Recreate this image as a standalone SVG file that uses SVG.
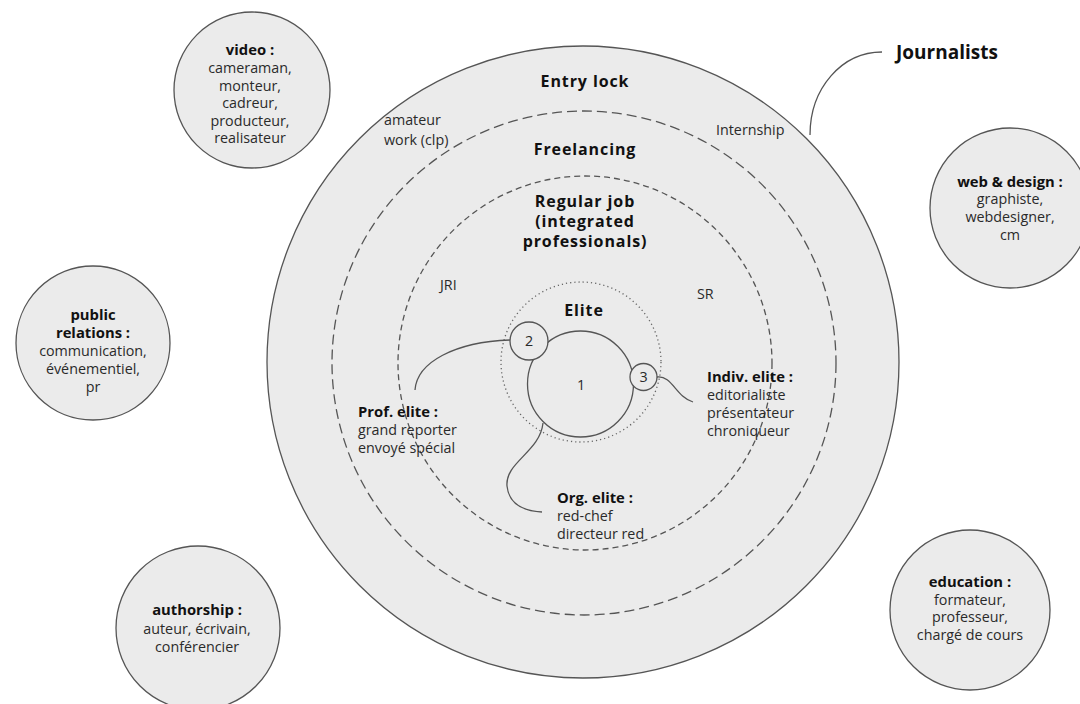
<svg xmlns="http://www.w3.org/2000/svg" width="1080" height="704" viewBox="0 0 1080 704">
<style>
.node{fill:#ebebeb;stroke:#555;stroke-width:1.3}
.ring{fill:none;stroke:#555;stroke-width:1.3}
.d1{stroke-dasharray:10 5}
.d2{stroke-dasharray:6 4}
.d3{stroke-dasharray:1.2 3;stroke:#666}
.conn{fill:none;stroke:#555;stroke-width:1.3}
text{font-family:"Open Sans","Noto Sans","Liberation Sans",sans-serif;fill:#2a2a2a;font-size:14.3px;text-anchor:middle}
.b{font-weight:bold;fill:#111;font-size:14.8px}
.h{font-weight:bold;fill:#111;font-size:16px;letter-spacing:0.9px}
.l{text-anchor:start}
</style>
<rect width="1080" height="704" fill="#fff"/>
<g id="journalists">
<circle class="node" cx="583" cy="362" r="316"/>
<text class="h" x="585" y="87">Entry lock</text>
<text class="l" x="384" y="125">amateur</text>
<text class="l" x="384" y="145">work (clp)</text>
<text class="l" x="716" y="135">Internship</text>
</g>
<g id="freelancing">
<circle class="ring d1" cx="584" cy="363" r="252"/>
<text class="h" x="585" y="155">Freelancing</text>
</g>
<g id="regular">
<circle class="ring d2" cx="585" cy="363" r="187"/>
<text class="h" x="585" y="207">Regular job</text>
<text class="h" x="585" y="227">(integrated</text>
<text class="h" x="585" y="247">professionals)</text>
<text class="l" x="440" y="290">JRI</text>
<text class="l" x="697" y="299">SR</text>
</g>
<g id="elite">
<circle class="ring d3" cx="581" cy="362" r="80"/>
<text class="h" x="584" y="316">Elite</text>
</g>
<g id="connectors">
<path class="conn" d="M510,340 C455,342 417,362 415,390"/>
<path class="conn" d="M543,423 C540,452 505,462 507,486 C509,505 524,511 542,512"/>
<path class="conn" d="M657,377 C672,375 676,397 693,402"/>
<path class="conn" d="M810,135 C810,88 842,52 882,52"/>
</g>
<g id="e1">
<circle class="node" cx="580.5" cy="384" r="53"/>
<text x="581" y="390">1</text>
</g>
<g id="e2">
<circle class="node" cx="529" cy="341" r="19"/>
<text x="529" y="346">2</text>
</g>
<g id="e3">
<circle class="node" cx="643.5" cy="377" r="13.5"/>
<text x="643.5" y="382">3</text>
</g>
<g id="prof-elite">
<text class="l b" x="358" y="417">Prof. elite :</text>
<text class="l" x="358" y="435">grand reporter</text>
<text class="l" x="358" y="453">envoyé spécial</text>
</g>
<g id="org-elite">
<text class="l b" x="557" y="503">Org. elite :</text>
<text class="l" x="557" y="521">red-chef</text>
<text class="l" x="557" y="539">directeur red</text>
</g>
<g id="indiv-elite">
<text class="l b" x="707" y="382">Indiv. elite :</text>
<text class="l" x="707" y="400">editorialiste</text>
<text class="l" x="707" y="418">présentateur</text>
<text class="l" x="707" y="436">chroniqueur</text>
</g>
<g id="journalists-label">
<text class="l b" x="896" y="59" style="font-size:19px">Journalists</text>
</g>
<g id="video">
<circle class="node" cx="252" cy="90" r="78"/>
<text class="b" x="250" y="55">video :</text>
<text x="250" y="73">cameraman,</text>
<text x="250" y="91">monteur,</text>
<text x="250" y="108">cadreur,</text>
<text x="250" y="126">producteur,</text>
<text x="250" y="143">realisateur</text>
</g>
<g id="web-design">
<circle class="node" cx="1010" cy="208" r="80"/>
<text class="b" x="1010" y="187">web &amp; design :</text>
<text x="1010" y="204">graphiste,</text>
<text x="1010" y="222">webdesigner,</text>
<text x="1010" y="240">cm</text>
</g>
<g id="public-relations">
<circle class="node" cx="93" cy="343" r="77"/>
<text class="b" x="93" y="320">public</text>
<text class="b" x="93" y="338">relations :</text>
<text x="93" y="356">communication,</text>
<text x="93" y="374">événementiel,</text>
<text x="93" y="392">pr</text>
</g>
<g id="authorship">
<circle class="node" cx="198" cy="628" r="82"/>
<text class="b" x="197" y="615">authorship :</text>
<text x="197" y="634">auteur, écrivain,</text>
<text x="197" y="652">conférencier</text>
</g>
<g id="education">
<circle class="node" cx="970" cy="610" r="80"/>
<text class="b" x="970" y="587">education :</text>
<text x="970" y="605">formateur,</text>
<text x="970" y="622">professeur,</text>
<text x="970" y="640">chargé de cours</text>
</g>
</svg>
